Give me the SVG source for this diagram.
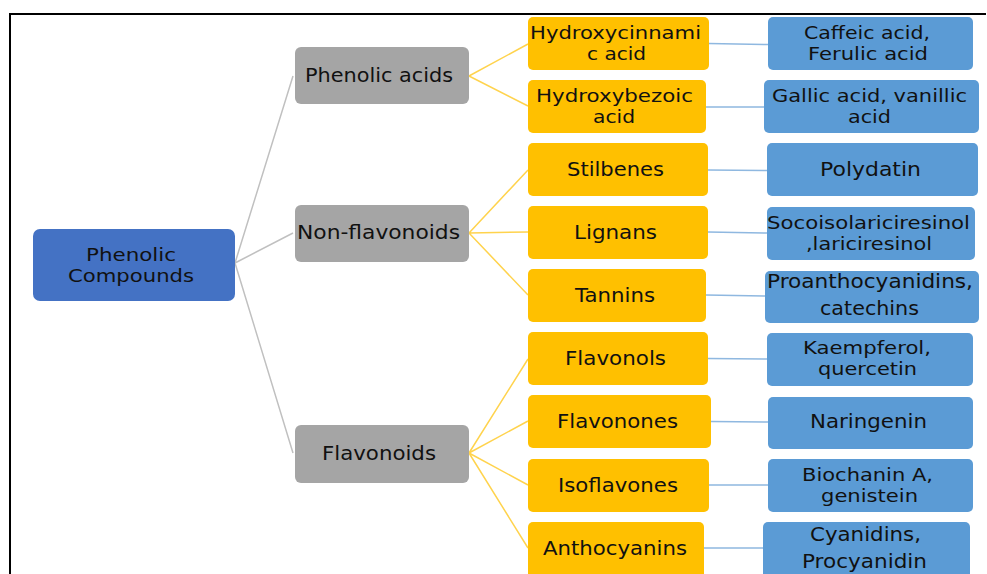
<svg xmlns="http://www.w3.org/2000/svg" width="987" height="574" viewBox="0 0 987 574">
<style>
text{font-family:"DejaVu Sans","Liberation Sans",sans-serif;font-size:20px;fill:#111;}
text.ml{font-size:17.8px;}
.root{fill:#4472C4;}
.l1{fill:#A5A5A5;}
.l2{fill:#FFC000;}
.l3{fill:#5B9BD5;}
.cg{stroke:#C0C0C0;stroke-width:1.5;fill:none;}
.cy{stroke:#FFD34D;stroke-width:1.5;fill:none;}
.cb{stroke:#8FB8E0;stroke-width:1.5;fill:none;}
</style>
<rect width="987" height="574" fill="#fff"/>
<path d="M10,574 V14 H986" stroke="#000" stroke-width="2" fill="none"/>
<g id="connectors">
<path class="cg" d="M235,263 L293,76 M235,263 L293,233 M235,263 L293,453"/>
<path class="cy" d="M469,76 L528,44 M469,76 L528,106"/>
<path class="cy" d="M469,233 L528,170 M469,233 L528,232 M469,233 L528,295"/>
<path class="cy" d="M469,453 L528,359 M469,453 L528,421 M469,453 L528,485 M469,453 L528,548"/>
<path class="cb" d="M709,43.5 L768,44.5 M706,107 L764,107 M708,170 L767,170.5 M708,232 L767,233 M706,295 L765,296 M708,358.5 L767,359 M711,421.5 L768,422 M709,485 L768,485 M704,548 L763,548"/>
</g>
<g id="n-root"><rect class="root" x="33" y="229" width="202" height="72" rx="7"/><text class="ml" x="86" y="260.5" textLength="90" lengthAdjust="spacingAndGlyphs">Phenolic</text><text class="ml" x="68" y="281.5" textLength="126" lengthAdjust="spacingAndGlyphs">Compounds</text></g>
<g id="n-phenolic-acids"><rect class="l1" x="295" y="47" width="174" height="57" rx="6"/><text x="305" y="82" textLength="148" lengthAdjust="spacingAndGlyphs">Phenolic acids</text></g>
<g id="n-non-flavonoids"><rect class="l1" x="295" y="205" width="174" height="57" rx="6"/><text x="297" y="239" textLength="163" lengthAdjust="spacingAndGlyphs">Non-flavonoids</text></g>
<g id="n-flavonoids"><rect class="l1" x="295" y="425" width="174" height="58" rx="6"/><text x="322" y="460" textLength="114" lengthAdjust="spacingAndGlyphs">Flavonoids</text></g>
<g id="n-hydroxycinnamic"><rect class="l2" x="528" y="17" width="181" height="53" rx="5"/><text class="ml" x="530" y="39" textLength="171" lengthAdjust="spacingAndGlyphs">Hydroxycinnami</text><text class="ml" x="587" y="60" textLength="59" lengthAdjust="spacingAndGlyphs">c acid</text></g>
<g id="n-hydroxybezoic"><rect class="l2" x="528" y="80" width="178" height="53" rx="5"/><text class="ml" x="536" y="101.5" textLength="157" lengthAdjust="spacingAndGlyphs">Hydroxybezoic</text><text class="ml" x="593" y="122.5" textLength="42" lengthAdjust="spacingAndGlyphs">acid</text></g>
<g id="n-stilbenes"><rect class="l2" x="528" y="143" width="180" height="53" rx="5"/><text x="567" y="176" textLength="97" lengthAdjust="spacingAndGlyphs">Stilbenes</text></g>
<g id="n-lignans"><rect class="l2" x="528" y="206" width="180" height="53" rx="5"/><text x="574" y="239" textLength="83" lengthAdjust="spacingAndGlyphs">Lignans</text></g>
<g id="n-tannins"><rect class="l2" x="528" y="269" width="178" height="53" rx="5"/><text x="575" y="302" textLength="80" lengthAdjust="spacingAndGlyphs">Tannins</text></g>
<g id="n-flavonols"><rect class="l2" x="528" y="332" width="180" height="53" rx="5"/><text x="565" y="365" textLength="101" lengthAdjust="spacingAndGlyphs">Flavonols</text></g>
<g id="n-flavonones"><rect class="l2" x="528" y="395" width="183" height="53" rx="5"/><text x="557" y="428" textLength="121" lengthAdjust="spacingAndGlyphs">Flavonones</text></g>
<g id="n-isoflavones"><rect class="l2" x="528" y="459" width="181" height="53" rx="5"/><text x="558" y="492" textLength="120" lengthAdjust="spacingAndGlyphs">Isoflavones</text></g>
<g id="n-anthocyanins"><rect class="l2" x="528" y="522" width="176" height="60" rx="5"/><text x="543" y="555" textLength="144" lengthAdjust="spacingAndGlyphs">Anthocyanins</text></g>
<g id="n-caffeic"><rect class="l3" x="768" y="17" width="205" height="53" rx="5"/><text class="ml" x="804" y="38.5" textLength="126" lengthAdjust="spacingAndGlyphs">Caffeic acid,</text><text class="ml" x="808" y="59.5" textLength="120" lengthAdjust="spacingAndGlyphs">Ferulic acid</text></g>
<g id="n-gallic"><rect class="l3" x="764" y="80" width="215" height="53" rx="5"/><text class="ml" x="772" y="101.5" textLength="195" lengthAdjust="spacingAndGlyphs">Gallic acid,  vanillic</text><text class="ml" x="848" y="122.5" textLength="43" lengthAdjust="spacingAndGlyphs">acid</text></g>
<g id="n-polydatin"><rect class="l3" x="767" y="143" width="211" height="53" rx="5"/><text x="820" y="176" textLength="101" lengthAdjust="spacingAndGlyphs">Polydatin</text></g>
<g id="n-socoisolariciresinol"><rect class="l3" x="767" y="207" width="208" height="53" rx="5"/><text class="ml" x="767" y="228.5" textLength="203" lengthAdjust="spacingAndGlyphs">Socoisolariciresinol</text><text class="ml" x="806" y="249.5" textLength="126" lengthAdjust="spacingAndGlyphs">,lariciresinol</text></g>
<g id="n-proanthocyanidins"><rect class="l3" x="765" y="271" width="214" height="52" rx="5"/><text x="767" y="288" textLength="206" lengthAdjust="spacingAndGlyphs">Proanthocyanidins,</text><text x="820" y="315" textLength="99" lengthAdjust="spacingAndGlyphs">catechins</text></g>
<g id="n-kaempferol"><rect class="l3" x="767" y="333" width="206" height="53" rx="5"/><text class="ml" x="803" y="354" textLength="128" lengthAdjust="spacingAndGlyphs">Kaempferol,</text><text class="ml" x="818" y="375" textLength="99" lengthAdjust="spacingAndGlyphs">quercetin</text></g>
<g id="n-naringenin"><rect class="l3" x="768" y="397" width="205" height="52" rx="5"/><text x="810" y="428" textLength="117" lengthAdjust="spacingAndGlyphs">Naringenin</text></g>
<g id="n-biochanin"><rect class="l3" x="768" y="459" width="205" height="53" rx="5"/><text class="ml" x="802" y="481" textLength="131" lengthAdjust="spacingAndGlyphs">Biochanin A,</text><text class="ml" x="821" y="502" textLength="97" lengthAdjust="spacingAndGlyphs">genistein</text></g>
<g id="n-cyanidins"><rect class="l3" x="763" y="522" width="207" height="60" rx="5"/><text x="810" y="541" textLength="111" lengthAdjust="spacingAndGlyphs">Cyanidins,</text><text x="802" y="568" textLength="125" lengthAdjust="spacingAndGlyphs">Procyanidin</text></g>
</svg>
